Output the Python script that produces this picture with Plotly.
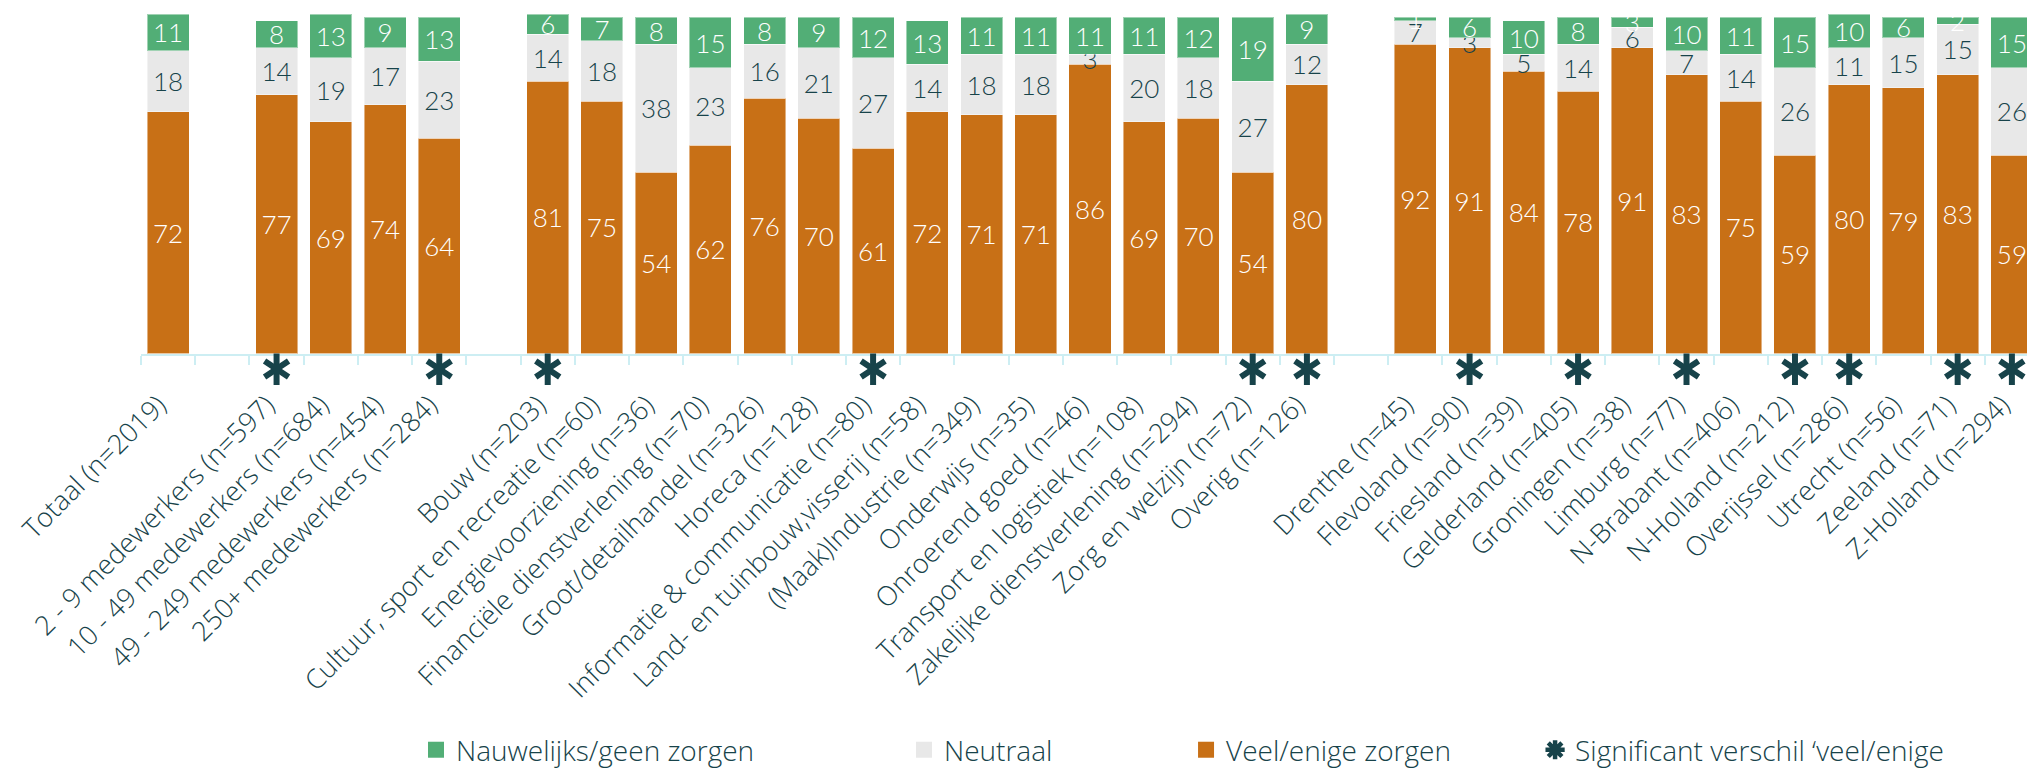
import plotly.graph_objects as go

NB = "\u00a0\u00a0"
labels = [
    "Totaal (n=2019)", "",
    "2 - 9 medewerkers (n=597)", "10 - 49 medewerkers (n=684)",
    "49 - 249 medewerkers (n=454)", "250+ medewerkers (n=284)", "",
    "Bouw (n=203)", "Cultuur, sport en recreatie (n=60)", "Energievoorziening (n=36)",
    "Financiële dienstverlening (n=70)", "Groot/detailhandel (n=326)", "Horeca (n=128)",
    "Informatie & communicatie (n=80)", "Land- en tuinbouw,visserij (n=58)",
    "(Maak)Industrie (n=349)", "Onderwijs (n=35)", "Onroerend goed (n=46)",
    "Transport en logistiek (n=108)", "Zakelijke dienstverlening (n=294)",
    "Zorg en welzijn (n=72)", "Overig (n=126)", "",
    "Drenthe (n=45)", "Flevoland (n=90)", "Friesland (n=39)", "Gelderland (n=405)",
    "Groningen (n=38)", "Limburg (n=77)", "N-Brabant (n=406)", "N-Holland (n=212)",
    "Overijssel (n=286)", "Utrecht (n=56)", "Zeeland (n=71)", "Z-Holland (n=294)",
]

veel = [72, None, 77, 69, 74, 64, None,
        81, 75, 54, 62, 76, 70, 61, 72, 71, 71, 86, 69, 70, 54, 80, None,
        92, 91, 84, 78, 91, 83, 75, 59, 80, 79, 83, 59]
neutraal = [18, None, 14, 19, 17, 23, None,
            14, 18, 38, 23, 16, 21, 27, 14, 18, 18, 3, 20, 18, 27, 12, None,
            7, 3, 5, 14, 6, 7, 14, 26, 11, 15, 15, 26]
geen = [11, None, 8, 13, 9, 13, None,
        6, 7, 8, 15, 8, 9, 12, 13, 11, 11, 11, 11, 12, 19, 9, None,
        1, 6, 10, 8, 3, 10, 11, 15, 10, 6, 2, 15]
significant = [0, 0, 1, 0, 0, 1, 0,
               1, 0, 0, 0, 0, 0, 1, 0, 0, 0, 0, 0, 0, 1, 1, 0,
               0, 1, 0, 1, 0, 1, 0, 1, 1, 0, 1, 1]

ORANGE = "#c87016"
GREY = "#e8e8e8"
GREEN = "#52ae76"
DARK = "#17434a"
AXIS = "#cdeef3"
NUMFONT = "Lato"
TXTFONT = "Open Sans"

x = list(range(len(labels)))
ticktext = [(l + NB) if l else "" for l in labels]


def txt(vals):
    return ["" if v is None else str(v) for v in vals]


edge = dict(width=1, color="rgba(255,255,255,0.45)")
fig = go.Figure()
for vals, name, col, tcol in [(veel, "Veel/enige zorgen", ORANGE, "white"),
                              (neutraal, "Neutraal", GREY, DARK),
                              (geen, "Nauwelijks/geen zorgen", GREEN, "white")]:
    fig.add_bar(x=x, y=vals, name=name, marker=dict(color=col, line=edge),
                text=txt(vals), textposition="inside", insidetextanchor="middle",
                textangle=0, textfont=dict(color=tcol, size=26, family=NUMFONT, weight=300),
                showlegend=False)

# legend proxies
for name, col, leg in [("Nauwelijks/geen zorgen", GREEN, "legend"),
                       ("Neutraal", GREY, "legend2"),
                       ("Veel/enige zorgen", ORANGE, "legend3")]:
    fig.add_scatter(x=[None], y=[None], mode="markers", name=name,
                    marker=dict(symbol="square", size=17, color=col), legend=leg)

sx = [i for i, s in enumerate(significant) if s]
sy = [0.55] * len(sx)
for sym in ["y-up-open", "y-down-open"]:
    fig.add_scatter(x=sx, y=sy, yaxis="y2", mode="markers", showlegend=False,
                    marker=dict(symbol=sym, size=20, color=DARK,
                                line=dict(color=DARK, width=6)))
fig.add_scatter(x=[None], y=[None], mode="markers", name="Significant verschil \u2018veel/enige",
                marker=dict(symbol="asterisk-open", size=16, color=DARK,
                            line=dict(color=DARK, width=4.5)), legend="legend4")

legend_common = dict(orientation="h", yanchor="middle", y=-0.968, xanchor="left",
                     font=dict(family=TXTFONT, size=28, color=DARK, weight=300),
                     itemwidth=30, bgcolor="rgba(0,0,0,0)", itemsizing="trace")

fig.update_layout(
    width=2035, height=771,
    margin=dict(l=133, r=4, t=6, b=385),
    barmode="stack", bargap=0.225,
    plot_bgcolor="white", paper_bgcolor="white",
    uniformtext=dict(minsize=26, mode="show"),
    legend=dict(x=0.1449, **legend_common),
    legend2=dict(x=0.402, **legend_common),
    legend3=dict(x=0.5506, **legend_common),
    legend4=dict(x=0.7345, **legend_common),
    xaxis=dict(range=[-0.5, len(labels) - 0.5], tickmode="array", tickvals=x,
               ticktext=ticktext, tickangle=-45, ticks="", showgrid=False,
               showline=True, linecolor=AXIS, linewidth=2, zeroline=False,
               anchor="y", ticklabelstandoff=13, ticklabeloverflow="allow",
               tickfont=dict(family=TXTFONT, size=27, color=DARK, weight=300),
               minor=dict(tickmode="linear", tick0=-0.5, dtick=1, ticks="outside",
                          ticklen=9, tickwidth=2, tickcolor=AXIS, showgrid=False)),
    yaxis=dict(range=[0, 101], domain=[0.0921, 1], visible=False,
               showgrid=False, zeroline=False),
    yaxis2=dict(range=[0, 1], domain=[0, 0.0921], anchor="x", visible=False,
                showgrid=False, zeroline=False),
)

fig.write_html("out.html")
